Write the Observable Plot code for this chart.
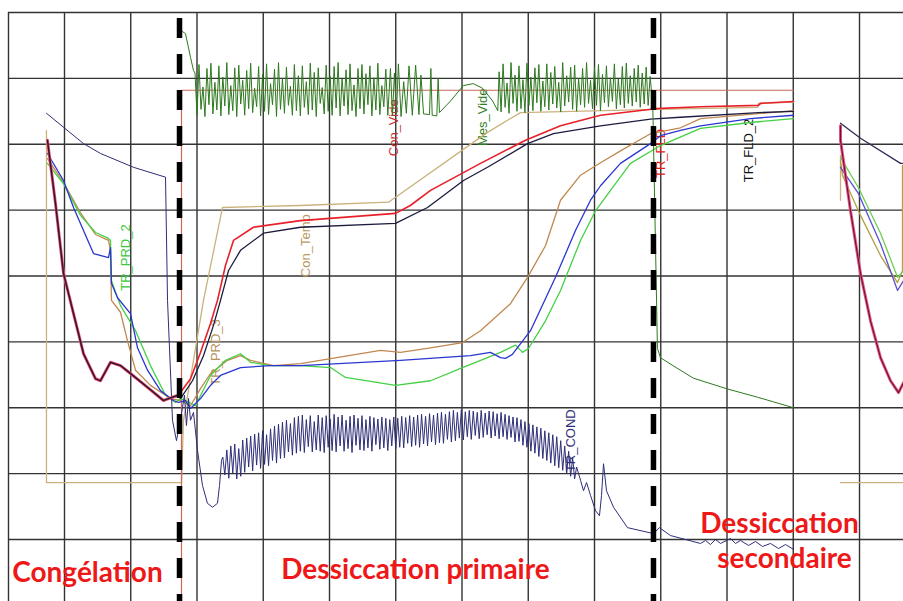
<!DOCTYPE html>
<html><head><meta charset="utf-8">
<script src="https://cdn.jsdelivr.net/npm/d3@7"></script>
<script src="https://cdn.jsdelivr.net/npm/@observablehq/plot@0.6"></script>
<style>html,body{margin:0;padding:0;background:#fff;} #chart svg{display:block;}</style>
</head><body><div id="chart"></div>
<script>
// ---- grid (time units: 10 per major division; value units: 10 per division)
const gridT = [10,20,30,40,50,60,70,80,90,100,110,120,130];
const gridV = [0,10,20,30,40,50,60,70,80];
const phaseBounds = [27.36, 98.9];

// ---- Con_Temp (shelf set-point)
const conTemp = [[7.28,62.1],[7.28,8.65],[27.66,8.65],[27.96,18.1],[30.98,36.3],[33.85,50.4],[45.62,50.7],[58.9,51.2],[73.85,61.8],[77.32,63.9],[78.83,64.8],[99.2,65.3],[114.6,65.6],[114.75,66.2],[120.04,66.4]];
const conTempR1 = [[127.13,58.3],[127.13,51.5]];
const conTempR2 = [[127.13,8.65],[136.64,8.65]];
// ---- Con_Vide (vacuum set-point)
const conVide = [[27.66,-9.4],[27.66,68.2],[120.04,68.2]];
// ---- freezing part shared by TR_FLD / TR_FLD_2
const fldFreeze = [[7.43,60.6],[8.64,51.0],[9.85,40.4],[11.36,34.3],[12.87,28.2],[14.68,24.4],[15.43,24.1],[16.94,26.9],[18.45,26.4],[19.96,25.2],[22.53,23.1],[24.94,21.1],[26.3,21.6],[27.2,21.9]];
const fldFreezeR = [[127.13,62.8],[127.13,60.6],[128.64,49.9],[130.15,40.4],[131.66,33.2],[133.17,27.6],[134.68,24.1],[135.89,22.3],[136.64,23.8]];
const trFld1Dry = [[29.02,24.4],[30.53,28.4],[32.04,32.8],[33.09,36.3],[34.3,41.6],[35.51,45.4],[38.53,47.4],[45.62,48.4],[59.96,49.5],[62.2,50.7],[65.25,53.0],[72.79,57.1],[79.58,60.6],[84.87,62.8],[90.91,64.4],[99.2,65.4],[106.0,65.7],[114.75,65.9],[115.06,66.2],[120.04,66.5]];
const trFld2Dry = [[27.5,21.4],[29.32,24.1],[30.98,27.9],[32.49,32.5],[33.55,36.3],[34.75,40.8],[36.57,43.9],[40.04,46.5],[45.62,47.4],[59.96,48.0],[64.8,50.4],[70.23,54.5],[73.85,56.5],[79.89,60.1],[83.81,61.6],[90.91,62.8],[98.45,63.8],[102.98,64.1],[114.75,64.8],[120.04,65.0]];
// ---- product probes
const trPrd1 = [[7.43,58.6],[9.85,54.5],[11.36,50.4],[14.38,43.4],[16.64,42.8],[16.94,44.3],[17.09,38.9],[18.0,36.7],[19.96,34.3],[21.02,29.1],[22.53,25.7],[24.49,22.6],[26.45,21.1],[27.2,20.8],[28.26,21.1],[29.02,19.9],[30.53,21.4],[32.04,23.4],[33.55,24.9],[36.57,26.1],[41.1,26.4],[45.62,26.4],[60.72,27.2],[71.28,27.9],[74.3,28.4],[75.81,27.6],[76.57,27.5],[77.6,28.1],[80.34,31.7],[84.11,39.8],[87.13,46.9],[89.4,51.5],[90.91,53.7],[93.92,57.1],[98.45,60.1],[99.96,61.3],[102.98,62.1],[106.0,62.8],[113.55,63.9],[120.04,64.4]];
const trPrd1R = [[127.13,56.5],[129.85,52.5],[133.17,44.9],[135.74,37.8],[136.64,39.3]];
const trPrd2 = [[7.43,57.1],[9.85,54.0],[12.42,49.2],[14.68,46.6],[16.49,45.8],[16.94,45.4],[17.09,39.3],[18.45,35.5],[20.72,31.7],[22.98,26.4],[25.25,21.9],[26.75,20.8],[27.5,21.4],[28.26,21.1],[29.77,20.3],[32.04,24.9],[34.3,27.2],[36.57,28.2],[38.08,26.9],[41.1,26.4],[45.62,26.4],[50.15,26.1],[52.42,24.6],[59.96,23.4],[65.25,24.1],[70.08,26.1],[75.81,28.4],[78.08,29.5],[79.13,28.4],[80.04,29.0],[82.6,33.2],[84.87,37.8],[87.89,45.4],[90.15,49.9],[92.42,53.0],[95.43,57.1],[99.96,59.8],[106.0,62.4],[113.55,63.3],[120.04,63.9]];
const trPrd2R = [[127.13,58.0],[129.85,53.4],[133.17,46.5],[135.74,39.8],[136.64,40.8]];
const trPrd3 = [[7.43,57.8],[9.85,54.2],[12.42,49.6],[14.68,46.3],[16.64,45.4],[16.94,43.9],[17.09,36.3],[18.45,34.5],[19.5,30.2],[20.72,25.7],[22.98,23.4],[26.0,21.4],[27.5,21.1],[29.02,20.3],[30.53,22.9],[32.04,25.2],[34.6,27.2],[36.57,27.9],[38.08,27.2],[41.55,26.4],[45.62,26.7],[57.7,28.7],[60.72,28.4],[65.25,29.1],[70.08,29.9],[72.79,31.7],[77.32,35.8],[79.89,39.8],[82.6,44.6],[84.87,51.5],[87.89,55.3],[90.91,57.2],[93.92,59.0],[98.45,61.6],[102.98,62.5],[106.0,63.9],[120.04,65.1]];
const trPrd3R = [[127.13,57.5],[127.43,55.3],[130.15,49.2],[133.17,43.1],[135.74,39.0],[136.49,40.8],[136.49,56.8]];
// ---- TR_COND (condenser)
const condPre = [[7.28,64.7],[12.87,60.1],[15.43,58.6],[20.42,56.5],[25.25,55.0],[25.55,36.3],[26.3,18.1],[26.9,15.0],[27.5,18.1],[28.11,21.9],[28.41,17.3],[28.72,21.4],[29.02,18.1],[29.47,19.3],[30.08,13.5],[30.83,8.2],[31.58,5.5],[32.34,4.9],[33.09,5.5],[33.4,8.2],[33.7,12.0]];
const condNoiseStart = 33.9, condNoiseStep = 0.3;
const condNoise = [
12.5,9.8,13.6,9.3,14.2,10.1,14.5,9.2,13.8,9.6,
15.1,10.2,15.4,11.0,15.7,10.4,16.0,11.3,16.2,10.8,
16.5,11.4,15.9,11.2,16.8,12.0,17.2,11.6,17.5,12.3,
17.8,12.4,18.1,13.3,17.6,12.8,18.5,13.1,18.7,13.4,
18.9,13.2,18.2,14.1,18.8,13.3,17.9,13.6,18.9,13.4,
18.5,13.2,18.8,14.0,18.3,13.5,19.0,13.3,18.6,14.2,
18.9,13.4,18.1,13.8,18.7,13.2,18.9,14.3,18.4,13.6,
18.8,13.5,18.2,13.9,18.7,13.4,18.5,14.4,18.3,13.7,
18.6,13.9,18.4,13.5,18.2,14.2,18.6,13.8,18.4,14.0,
18.7,13.9,18.5,14.6,18.8,14.1,18.6,14.3,18.9,14.0,
19.0,14.5,18.7,14.2,19.1,14.8,18.9,14.4,19.2,14.7,
19.3,14.6,19.0,15.2,19.4,14.8,19.6,15.0,19.3,15.4,
19.7,15.1,19.4,15.6,19.6,15.2,19.5,15.8,19.3,15.3,
19.6,15.5,19.2,15.9,19.5,15.4,19.4,15.7,19.1,15.3,
19.3,15.6,19.0,15.2,18.8,15.5,18.6,14.8,18.5,14.9,
18.2,14.3,17.9,14.0,17.6,13.4,17.4,13.1,17.1,12.6,
16.9,12.3,16.5,12.0,16.2,11.6,15.9,11.2,15.6,10.9,
15.0,10.5,14.2,10.1,13.4,9.6,12.4,9.2,11.0];
const condPost = [[87.89,9.0],[88.34,7.4],[88.8,8.65],[89.4,6.7],[90.15,4.4],[90.75,3.6],[91.06,6.7],[91.36,11.5],[91.81,7.4],[92.87,4.9],[94.98,1.8],[98.9,0.9],[99.8,1.8],[101.47,0.6],[106.0,-0.6],[106.76,-0.15],[107.5,-0.76],[108.26,0],[109.02,-0.6],[110.53,0.15],[111.28,-0.6],[112.04,-0.15],[113.25,-0.9],[114.3,-0.3],[115.36,-1.06],[116.57,-0.6],[117.77,-1.37],[118.83,-0.76],[120.04,-1.5]];
const condR = [[127.13,63.2],[130.15,60.9],[136.19,57.1],[136.49,57.1]];
// ---- Mes_Vide (vacuum measurement)
const mesPre = [[27.5,77.3],[28.26,76.8],[29.02,73.2],[29.47,71.2]];
const mesNoiseAStart = 29.7, mesNoiseBStart = 75.6, mesStep = 0.3;
const mesNoiseA = [
70.8,64.4,72.1,65.3,68.7,64.2,71.5,66.0,72.3,64.6,
69.4,65.2,71.9,64.3,70.2,65.8,72.4,64.5,68.9,65.1,
71.6,64.2,72.0,66.1,69.7,64.4,71.2,65.4,72.3,64.8,
68.5,65.7,71.8,64.3,70.6,65.0,72.2,64.5,69.2,66.0,
71.4,64.2,72.4,65.3,70.0,64.7,71.7,65.9,68.8,64.4,
72.1,65.1,70.4,64.3,71.9,65.6,69.5,64.5,72.3,65.2,
70.9,64.2,71.6,66.2,68.6,64.6,72.0,65.0,70.3,64.4,
71.8,65.5,72.4,64.3,69.9,65.8,71.3,64.5,72.2,65.1,
69.0,64.2,71.5,65.4,72.1,64.6,70.7,66.0,71.9,64.3,
70.1,65.2,72.3,64.5,68.9,65.7,71.4,64.4];
const mesMid = [[59.2,71.5],[59.5,64.3],[59.8,70.8],[60.1,64.6],[60.4,72.2],[60.8,64.2],[61.2,69.5],[61.6,64.7],[62.0,71.9],[62.5,64.4],[63.0,72.0],[63.5,64.5],[63.8,70.5],[64.2,64.6],[65.1,64.5],[65.3,71.5],[65.5,64.4],[66.2,64.3],[66.4,70.0],[66.6,64.8],[68.3,66.6],[70.2,68.9],[71.7,69.2],[73.1,68.5],[74.6,66.6],[75.4,65.1]];
const mesNoiseB = [
71.0,64.9,72.2,65.6,69.3,64.7,72.4,66.2,70.5,65.0,
71.9,65.4,69.8,64.8,72.3,65.9,70.2,65.1,71.6,66.3,
72.1,65.0,69.6,65.7,72.2,65.2,70.9,66.1,71.8,65.5,
69.4,64.9,72.4,65.8,70.4,66.4,71.7,65.3,72.0,65.0,
70.0,66.0,71.5,65.6,72.4,66.2,69.7,65.4,71.6,65.9,
72.1,65.1,70.6,66.3,71.9,65.7,70.1,66.5,72.2,65.4,
69.9,66.0,71.8,65.5,72.3,66.2,70.4,65.8,71.5,66.4,
72.0,65.6,70.8,66.1,71.7,65.9,70.3];
const mesPost = [[98.8,65.8],[99.2,45],[99.5,29],[99.96,27.6],[102,26.3],[104.9,24.5],[109.9,22.9],[114.6,21.6],[117,20.9],[120.04,20.0]];

// ---- labels
const seriesLabels = [
  {t:19.21, v:42.8, text:"TR_PRD_2", color:"#3cc83c"},
  {t:32.79, v:28.4, text:"TR_PRD_3", color:"#b8905a"},
  {t:46.4, v:44.6, text:"Con_Temp", color:"#b89a60"},
  {t:59.66, v:62.5, text:"Con_Vide", color:"#c83030"},
  {t:73.1, v:64.1, text:"Mes_Vide", color:"#2f7d23"},
  {t:86.38, v:15.0, text:"TR_COND", color:"#2e2e78"},
  {t:113.25, v:59.05, text:"TR_FLD_2", color:"#111111"},
  {t:99.96, v:58.6, text:"TR_FLD", color:"#e02020"}
];
const phaseLabels = [
  {t:13.47, v:-6.38, text:"Congélation"},
  {t:62.98, v:-5.92, text:"Dessiccation primaire"},
  {t:117.92, v:1.06, text:"Dessiccation"},
  {t:118.68, v:-4.25, text:"secondaire"}
];

// ---- build
const P = a => a.map(([t, v]) => ({t, v}));
const reg = (start, step, vals) => vals.map((v, i) => ({t: start + i * step, v}));
const mesVide = [...P(mesPre), ...reg(mesNoiseAStart, mesStep, mesNoiseA), ...P(mesMid), ...reg(mesNoiseBStart, mesStep, mesNoiseB), ...P(mesPost)];
const trCond = [...P(condPre), ...reg(condNoiseStart, condNoiseStep, condNoise), ...P(condPost)];
const L = (data, stroke, w = 1.3, extra = {}) => Plot.line(data, {x: "t", y: "v", stroke, strokeWidth: w, strokeLinejoin: "round", ...extra});

const X0 = 0.34, X1 = 136.64, Y0 = -9.41, Y1 = 81.82;
const chart = Plot.plot({
  width: 903, height: 601, margin: 0,
  style: {background: "#fff"},
  x: {domain: [X0, X1], axis: null},
  y: {domain: [Y0, Y1], axis: null},
  marks: [
    Plot.ruleY(gridV, {y: d => d, x1: 1.547, x2: X1, stroke: "#333", strokeWidth: 1.4}),
    Plot.ruleX(gridT, {x: d => d, y1: 80, y2: Y0, stroke: "#333", strokeWidth: 1.4}),
    Plot.ruleX([1.547], {x: d => d, y1: 80, y2: Y0, stroke: "#333", strokeWidth: 1.4}),
    Plot.text(seriesLabels, {x: "t", y: "v", text: "text", fill: "color", rotate: -90, fontSize: 13, fontFamily: "Liberation Sans, Arial, sans-serif"}),
    L(P(conTemp), "#cbb27c"),
    L(P(conTempR1), "#cbb27c"),
    L(P(conTempR2), "#cbb27c"),
    L(P(conVide), "#c8685a", 1.2),
    L(P(trPrd3), "#c08850"),
    L(P(trPrd3R), "#b0a040"),
    L(P(trPrd2), "#44d044"),
    L(P(trPrd2R), "#6ad050"),
    L(P(trPrd1), "#2a36d0"),
    L(P(trPrd1R), "#5a50d0"),
    L(trCond, "#2e2e78", 1.0),
    L(P(condR), "#2e2e58"),
    L(P(fldFreeze), "#e8587a", 3),
    L(P(fldFreezeR), "#e8587a", 3),
    L([...P(fldFreeze), ...P(trFld1Dry)], "#e8202a", 1.6),
    L([...P(fldFreeze), ...P(trFld2Dry)], "#1c1c40", 1.3),
    L(P(fldFreezeR), "#6a1040", 1.1),
    L(mesVide, "#2d7a1f", 1.0),
    Plot.ruleX(phaseBounds, {x: d => d, y1: 80, y2: Y0, stroke: "#000", strokeWidth: 5.5, strokeDasharray: "20,16", strokeDashoffset: -6}),
    Plot.text(phaseLabels, {x: "t", y: "v", text: "text", fill: "#ee1818", fontSize: 28, fontWeight: "bold", fontFamily: "Lato, sans-serif", lineAnchor: "bottom"})
  ]
});
document.getElementById("chart").appendChild(chart);
</script></body></html>
